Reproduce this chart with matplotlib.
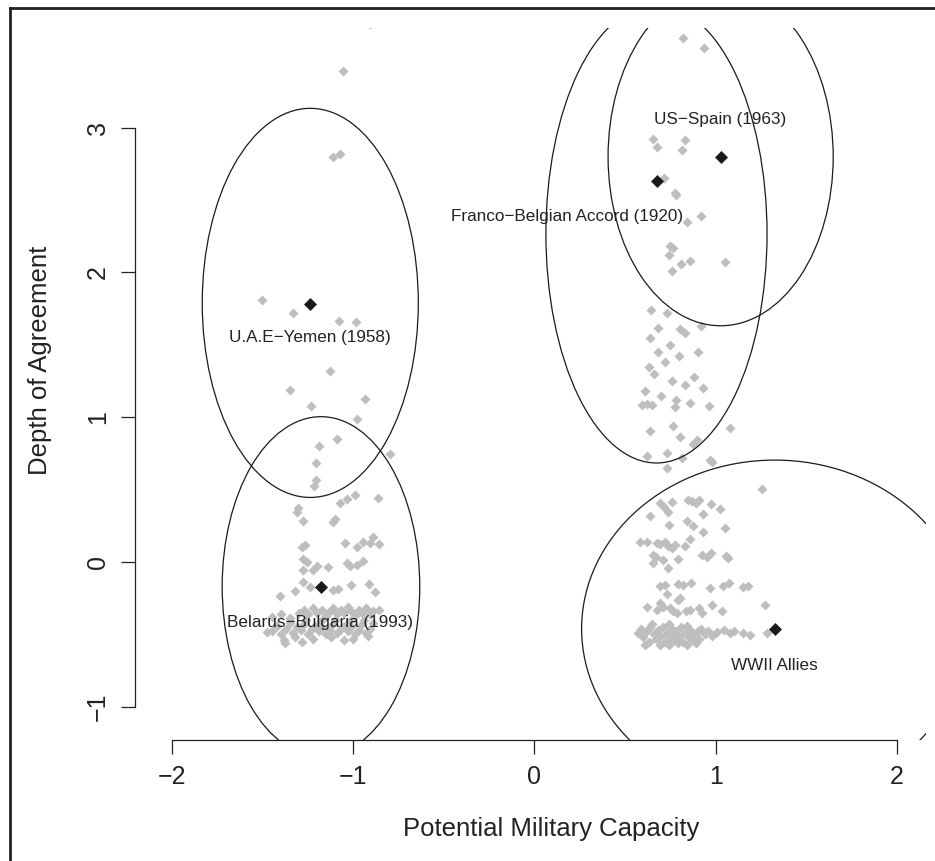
import matplotlib
matplotlib.use("Agg")
import matplotlib.pyplot as plt
from matplotlib.patches import Ellipse
from matplotlib.lines import Line2D

plt.rcParams['font.family'] = ['Liberation Sans', 'DejaVu Sans']

# ---------------- data ----------------
# grey points (all agreements)
grey_x = [
    # left cluster, upper part
    -1.058, -1.110, -1.073, -1.502, -1.331, -1.080, -0.985, -1.127, -1.347, -1.233,
    -0.935, -0.981, -1.088, -1.191, -0.797, -1.207, -1.207, -1.215, -0.990, -1.033,
    -1.073, -0.862, -1.303, -1.312, -1.276, -1.101, -1.113, -1.266, -1.284, -1.046,
    -0.981, -0.945, -0.893, -0.908, -0.858, -1.276, -1.257, -1.202, -1.141, -1.036,
    -1.018, -0.981, -0.945, -1.276, -1.221, -1.276, -1.239, -1.110, -1.083, -1.014,
    -0.913, -0.880, -1.321, -1.404, -1.478, -1.377, -0.908,
    # left cluster, dense band
    -1.30, -1.27, -1.25, -1.22, -1.20, -1.17, -1.15, -1.13, -1.11, -1.09,
    -1.07, -1.05, -1.03, -1.01, -0.99, -0.97, -0.95, -0.93, -0.91, -0.89, -0.86,
    -1.45, -1.42, -1.40, -1.37, -1.35, -1.33, -1.31, -1.29, -1.27, -1.25,
    -1.23, -1.21, -1.19, -1.17, -1.15, -1.13, -1.11, -1.09, -1.07, -1.05,
    -1.03, -1.01, -0.99, -0.97, -0.95, -0.93, -0.91, -0.89, -1.26, -1.18,
    -1.10, -1.02, -0.94, -1.32, -1.22, -1.12, -1.00, -0.92, -1.38, -1.28,
    -1.05, -1.45, -1.40, -1.35,
    # right cluster, top
    0.821, 0.935, 0.655, 0.678, 0.832, 0.815, 0.716, 0.775, 0.781, 0.840,
    0.917, 0.748, 0.762, 0.744, 0.807, 0.858, 1.051, 0.757, 0.641, 0.733,
    0.680, 0.803, 0.919,
    # right cluster, middle
    0.63, 0.66, 0.72, 0.80, 0.76, 0.83, 0.88, 0.93, 0.61, 0.70,
    0.78, 0.86, 0.64, 0.75, 0.90, 0.68, 0.83,
    0.591, 0.618, 0.646, 0.775, 0.964, 0.637, 0.766, 1.079, 0.803, 0.873,
    0.895, 0.622, 0.729, 0.812, 0.968, 0.978, 0.729, 1.257, 0.692, 0.716,
    0.757, 0.849, 0.867, 0.891, 0.909, 0.974, 1.023, 0.637, 0.738, 0.928,
    0.742, 0.840, 0.873, 0.931, 1.051, 0.582, 0.622, 0.674, 0.692, 0.720,
    0.738, 0.775, 0.757, 0.830, 0.858, 0.655, 0.670, 0.655, 0.707, 0.738,
    0.793, 0.922, 0.950, 0.974, 1.057, 1.069, 0.692, 0.720, 0.793, 0.821,
    0.862, 0.968, 1.042, 1.075, 1.152, 1.180, 0.729, 0.803, 0.793, 1.272,
    0.622, 0.674, 0.692, 0.711, 0.748, 0.766, 0.788, 0.836, 0.858, 0.909,
    0.922, 0.978, 1.033, 1.189, 1.281, 0.950, 1.005, 1.046, 1.079,
    # right cluster, dense band
    0.57, 0.59, 0.60, 0.62, 0.63, 0.64, 0.66, 0.67, 0.68, 0.70,
    0.71, 0.72, 0.73, 0.75, 0.76, 0.77, 0.78, 0.80, 0.81, 0.82,
    0.83, 0.85, 0.86, 0.87, 0.88, 0.90, 0.91, 0.92, 0.94, 0.96,
    0.98, 0.61, 0.69, 0.74, 0.79, 0.84, 0.65, 0.74, 0.84, 0.60,
    0.68, 0.76, 0.84, 0.89, 1.10, 1.15,
]
grey_y = [
    3.392, 2.800, 2.817, 1.810, 1.718, 1.665, 1.656, 1.322, 1.188, 1.078,
    1.124, 0.988, 0.850, 0.801, 0.746, 0.682, 0.566, 0.527, 0.463, 0.433,
    0.410, 0.440, 0.375, 0.348, 0.283, 0.295, 0.279, 0.117, 0.106, 0.133,
    0.106, 0.140, 0.171, 0.129, 0.122, 0.019, 0.002, -0.026, -0.032, -0.009,
    -0.026, -0.021, 0.007, -0.055, -0.055, -0.140, -0.170, -0.193, -0.187, -0.159,
    -0.154, -0.209, -0.198, -0.233, -0.481, -0.557, 3.715,
    -0.35, -0.33, -0.36, -0.32, -0.35, -0.33, -0.37, -0.34, -0.32, -0.36,
    -0.33, -0.35, -0.31, -0.34, -0.37, -0.33, -0.35, -0.32, -0.36, -0.34, -0.33,
    -0.48, -0.44, -0.50, -0.46, -0.42, -0.49, -0.45, -0.47, -0.43, -0.50,
    -0.46, -0.44, -0.48, -0.45, -0.50, -0.47, -0.43, -0.49, -0.46, -0.44,
    -0.48, -0.45, -0.50, -0.47, -0.43, -0.49, -0.46, -0.42, -0.40, -0.41,
    -0.40, -0.41, -0.40, -0.52, -0.53, -0.52, -0.53, -0.51, -0.54, -0.55,
    -0.54, -0.38, -0.36, -0.39,
    3.618, 3.553, 2.922, 2.865, 2.915, 2.846, 2.655, 2.551, 2.535, 2.347,
    2.390, 2.185, 2.167, 2.121, 2.057, 2.079, 2.070, 2.012, 1.741, 1.718,
    1.614, 1.608, 1.633,
    1.35, 1.30, 1.38, 1.42, 1.25, 1.22, 1.28, 1.20, 1.18, 1.15,
    1.12, 1.10, 1.55, 1.50, 1.45, 1.45, 1.58,
    1.087, 1.090, 1.085, 1.073, 1.078, 0.907, 0.940, 0.924, 0.866, 0.815,
    0.843, 0.732, 0.755, 0.721, 0.705, 0.693, 0.647, 0.504, 0.405, 0.382,
    0.417, 0.428, 0.421, 0.405, 0.428, 0.401, 0.366, 0.318, 0.348, 0.332,
    0.256, 0.285, 0.249, 0.205, 0.233, 0.140, 0.136, 0.133, 0.122, 0.140,
    0.111, 0.117, 0.099, 0.113, 0.157, 0.048, 0.037, -0.009, 0.014, -0.044,
    0.019, 0.048, 0.037, 0.060, 0.041, 0.026, -0.163, -0.159, -0.152, -0.159,
    -0.147, -0.178, -0.164, -0.147, -0.175, -0.164, -0.221, -0.251, -0.263, -0.297,
    -0.313, -0.332, -0.281, -0.309, -0.320, -0.337, -0.354, -0.337, -0.332, -0.320,
    -0.354, -0.297, -0.337, -0.504, -0.493, -0.481, -0.481, -0.470, -0.493,
    -0.49, -0.46, -0.52, -0.48, -0.55, -0.45, -0.50, -0.53, -0.47, -0.51,
    -0.45, -0.55, -0.49, -0.52, -0.46, -0.54, -0.48, -0.51, -0.45, -0.55,
    -0.49, -0.52, -0.47, -0.54, -0.50, -0.48, -0.53, -0.46, -0.50, -0.48,
    -0.51, -0.57, -0.57, -0.57, -0.56, -0.57, -0.43, -0.43, -0.44, -0.50,
    -0.52, -0.50, -0.50, -0.56, -0.48, -0.49,
]

# highlighted agreements
hl_names = ["U.A.E\u2212Yemen (1958)", "Belarus\u2212Bulgaria (1993)",
            "Franco\u2212Belgian Accord (1920)", "US\u2212Spain (1963)", "WWII Allies"]
hl_x = [-1.239, -1.178, 0.674, 1.027, 1.326]
hl_y = [1.785, -0.170, 2.634, 2.800, -0.461]
label_x = [-1.237, -1.183, 0.179, 1.023, 1.326]
label_y = [1.554, -0.415, 2.390, 3.060, -0.716]

# ellipses: centre and half-axes
ell_cx = [-1.237, -1.178, 0.673, 1.027, 1.326]
ell_cy = [1.790, -0.170, 2.266, 2.800, -0.461]
ell_rx = [0.596, 0.545, 0.610, 0.621, 1.066]
ell_ry = [1.344, 1.174, 1.582, 1.168, 1.165]

x_ticks = [-2, -1, 0, 1, 2]
y_ticks = [-1, 0, 1, 2, 3]

# ---------------- figure ----------------
W, H = 935, 861
fig = plt.figure(figsize=(W / 100, H / 100), dpi=100)

def fx(px):
    return px / W

def fy(py):
    return 1 - py / H

ax = fig.add_axes([fx(135), fy(740), fx(926) - fx(135), fy(28) - fy(740)])
ax.set_xlim(-2.204, 2.160)
ax.set_ylim(-1.2297, 3.689)

ax.scatter(grey_x, grey_y, marker='D', s=26, color='#bebebe', linewidths=0, zorder=2)
ax.scatter(hl_x, hl_y, marker='D', s=44, color='#1a1a1a', linewidths=0, zorder=3)

for cx, cy, rx, ry in zip(ell_cx, ell_cy, ell_rx, ell_ry):
    ax.add_patch(Ellipse((cx, cy), 2 * rx, 2 * ry, fill=False,
                         edgecolor='#1a1a1a', linewidth=0.9, zorder=4))

for name, tx, ty in zip(hl_names, label_x, label_y):
    ax.text(tx, ty, name, ha='center', va='center', fontsize=12.3,
            color='#222222', zorder=5)

for s in ['top', 'right']:
    ax.spines[s].set_visible(False)
ax.spines['left'].set_bounds(-1, 3)
ax.spines['bottom'].set_bounds(-2, 2)
for s in ['left', 'bottom']:
    ax.spines[s].set_linewidth(0.9)
    ax.spines[s].set_color('#222222')

ax.set_xticks(x_ticks)
ax.set_yticks(y_ticks)
ax.set_xticklabels([str(v).replace('-', '\u2212') for v in x_ticks])
ax.set_yticklabels([str(v).replace('-', '\u2212') for v in y_ticks],
                   rotation=90, va='center')
ax.tick_params(axis='both', direction='out', length=10, width=0.9,
               colors='#222222', labelsize=18)
ax.tick_params(axis='x', pad=8)
ax.tick_params(axis='y', pad=8)

fig.text(fx(551), fy(829), "Potential Military Capacity", ha='center', va='center',
         fontsize=18.5, color='#222222')
fig.text(fx(40), fy(360), "Depth of Agreement", ha='center', va='center',
         rotation=90, fontsize=18.5, color='#222222')

# outer frame (top and left edges visible in the crop)
fig.add_artist(Line2D([fx(10), fx(10)], [fy(8), fy(861)], color='#222222', linewidth=2))
fig.add_artist(Line2D([fx(10), fx(935)], [fy(8), fy(8)], color='#222222', linewidth=2))

fig.savefig("out.png", dpi=100)
